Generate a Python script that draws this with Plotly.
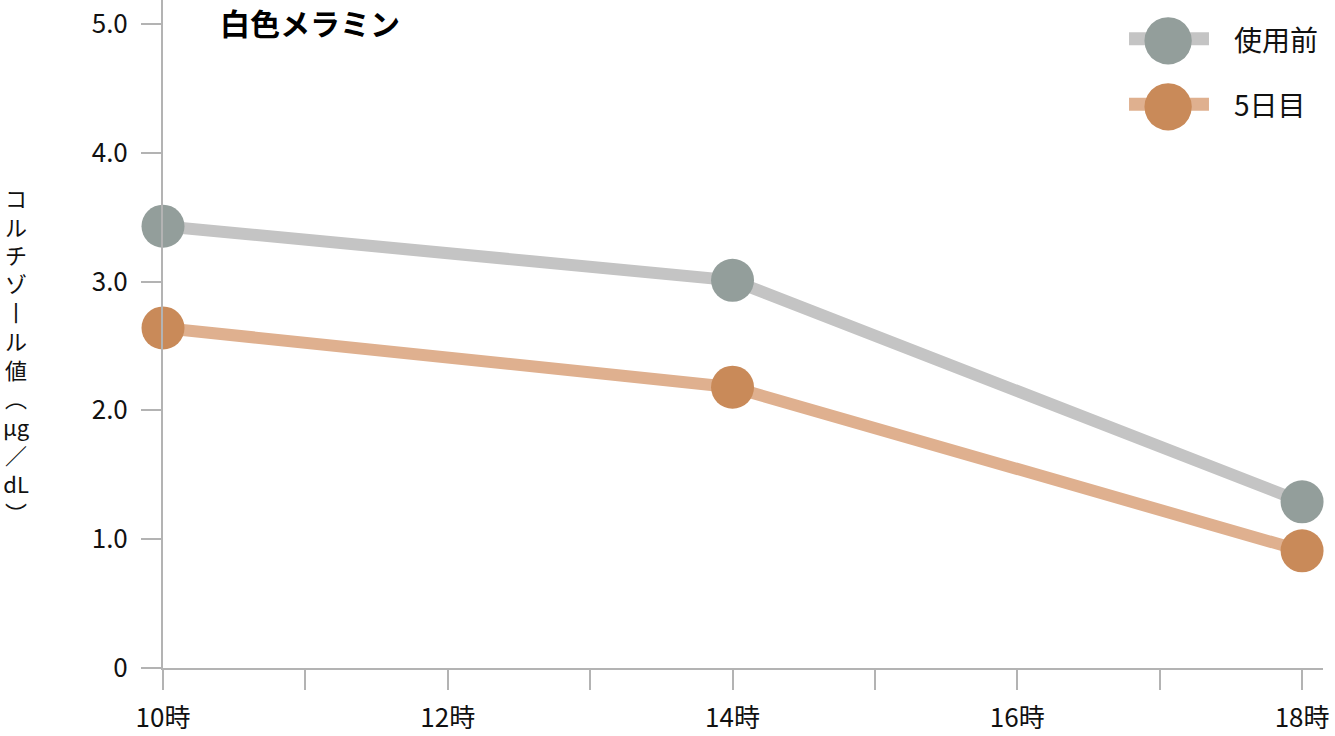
import plotly.graph_objects as go

hours = [10, 14, 18]
before_use = [3.43, 3.01, 1.29]
day5 = [2.64, 2.18, 0.91]
series_names = ["使用前", "5日目"]
x_tick_vals = [10, 12, 14, 16, 18]
x_tick_text = ["10時", "12時", "14時", "16時", "18時"]
y_tick_vals = [0, 1, 2, 3, 4, 5]
y_tick_text = ["0", "1.0", "2.0", "3.0", "4.0", "5.0"]
title_text = "白色メラミン"
y_title_lines = ["コ", "ル", "チ", "ゾ", "丨", "ル", "値", "︵", "μg", "／", "dL", "︶"]

line_colors = ["#c4c4c4", "#dfb08f"]
marker_colors = ["#939e9b", "#c98a59"]
FONT = "Noto Sans CJK JP"

fig = go.Figure()
for name, ys, lc, mc in zip(series_names, [before_use, day5], line_colors, marker_colors):
    fig.add_trace(go.Scatter(
        x=hours, y=ys, name=name, mode="lines+markers",
        line=dict(color=lc, width=12),
        marker=dict(color=mc, size=43),
        cliponaxis=False, showlegend=False,
    ))

# legend drawn as decoration in paper coordinates (paper = plot area)
legend_rows = [(0.942, 0), (0.844, 1)]
shapes = []
annotations = []
for yp, i in legend_rows:
    shapes.append(dict(type="line", xref="paper", yref="paper",
                       x0=0.8328, x1=0.9017, y0=yp, y1=yp,
                       line=dict(color=line_colors[i], width=13), layer="above"))
    annotations.append(dict(xref="paper", yref="paper", x=0.8664, y=yp,
                            text="●", showarrow=False,
                            font=dict(size=62, color=marker_colors[i], family="DejaVu Sans"),
                            xanchor="center", yanchor="middle", yshift=3))
    annotations.append(dict(xref="paper", yref="paper", x=0.9215, y=yp,
                            text=series_names[i], showarrow=False,
                            font=dict(size=28, color="#111111", family=FONT),
                            xanchor="left", yanchor="middle"))

annotations.append(dict(xref="paper", yref="paper", x=0.0475, y=0.967,
                        text="<b>" + title_text + "</b>", showarrow=False,
                        font=dict(size=30, color="#000000", family=FONT),
                        xanchor="left", yanchor="middle"))

annotations.append(dict(xref="paper", yref="paper", x=-0.1265, y=0.47,
                        text="<br>".join(y_title_lines), showarrow=False,
                        font=dict(size=22, color="#111111", family=FONT),
                        xanchor="center", yanchor="middle", align="center"))

fig.update_layout(
    width=1335, height=736,
    margin=dict(l=163, r=12, t=0, b=68),
    paper_bgcolor="white", plot_bgcolor="white",
    font=dict(family=FONT, color="#111111"),
    shapes=shapes, annotations=annotations,
    showlegend=False,
)
fig.update_xaxes(
    range=[10, 18.147], showgrid=False, zeroline=False,
    showline=True, linecolor="#b3b3b3", linewidth=2,
    tickmode="array", tickvals=x_tick_vals, ticktext=x_tick_text,
    ticks="outside", ticklen=20, tickwidth=2, tickcolor="#b3b3b3",
    minor=dict(ticks="outside", ticklen=20, tickwidth=2, tickcolor="#b3b3b3", dtick=1, showgrid=False),
    tickfont=dict(size=26, color="#111111", family=FONT),
    ticklabelstandoff=6,
)
fig.update_yaxes(
    range=[0, 5.186], showgrid=False, zeroline=False,
    showline=True, linecolor="#b3b3b3", linewidth=2,
    tickmode="array", tickvals=y_tick_vals, ticktext=y_tick_text,
    ticks="outside", ticklen=20, tickwidth=2, tickcolor="#b3b3b3",
    tickfont=dict(size=26, color="#111111", family=FONT),
    ticklabelstandoff=8,
)

fig.write_html("out.html", config={"displayModeBar": False},
               post_script="document.body.style.margin='0';document.body.style.overflow='hidden';")
